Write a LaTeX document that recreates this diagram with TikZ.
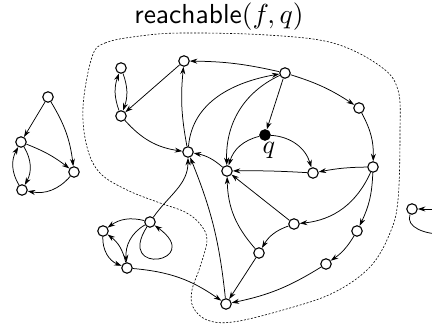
\documentclass[tikz,border=0pt]{standalone}
\usetikzlibrary{arrows.meta}

\begin{document}
\begin{tikzpicture}[
  x=1pt, y=-1pt,
  vtx/.style={draw, circle, line width=1.1pt, minimum size=10.5pt, inner sep=0pt},
  qvtx/.style={vtx, fill=black},
  flow/.style={-{Stealth[length=7.5pt, width=5pt]}, line width=0.75pt},
  region/.style={dash pattern=on 2pt off 1.6pt, line width=0.6pt}
]
\useasboundingbox (0,0) rectangle (432,328);

\node[scale=2.75] (title) at (219,17) {\textsf{reachable}$(f,q)$};

% region of reachable states
\draw[region] plot[smooth cycle, tension=0.6] coordinates {
  (92,57) (105,43) (140,36) (183,33) (267,35) (333,43) (380,66) (398,90)
  (400,133) (398,200) (390,233) (370,267) (333,293) (283,310) (233,322)
  (207,320) (193,307) (192,290) (200,267) (207,240) (200,224) (185,212)
  (160,203) (127,190) (100,173) (87,147) (83,107)};

% left component
\node[vtx] (l1) at (48,97) {};
\node[vtx] (l2) at (21,142) {};
\node[vtx] (l3) at (74,172) {};
\node[vtx] (l4) at (22,190) {};
\draw[flow] (l1) -- (l2);
\draw[flow] (l1) to[bend left=12] (l3);
\draw[flow] (l2) to[bend left=8] (l3);
\draw[flow] (l2) to[bend left=30] (l4);
\draw[flow] (l4) to[bend left=30] (l2);
\draw[flow] (l3) to[bend left=30] (l4);

% main component
\node[vtx] (a) at (121,68) {};
\node[vtx] (b) at (121,116) {};
\node[vtx] (c) at (184,61) {};
\node[vtx] (d) at (285,73) {};
\node[vtx] (e) at (359,108) {};
\node[qvtx] (q) at (265,135) {};
\node[scale=2.6] (qlab) at (269,150) {$q$};
\node[vtx] (f) at (188,152) {};
\node[vtx] (g) at (227,171) {};
\node[vtx] (h) at (313,173) {};
\node[vtx] (i) at (373,167) {};
\node[vtx] (j) at (294,224) {};
\node[vtx] (k) at (357,231) {};
\node[vtx] (m) at (259,253) {};
\node[vtx] (n) at (326,264) {};
\node[vtx] (p) at (226,304) {};
\node[vtx] (r) at (150,222) {};
\node[vtx] (s) at (103,231) {};
\node[vtx] (t) at (127,268) {};

\draw[flow] (a) to[bend left=20] (b);
\draw[flow] (b) to[bend left=20] (a);
\draw[flow] (c) -- (b);
\draw[flow] (b) to[bend right=20] (f);
\draw[flow] (f) to[bend left=8] (c);
\draw[flow] (d) to[bend right=6] (c);
\draw[flow] (f) to[out=85, in=190] (d);
\draw[flow] (d) to[out=205, in=92] (g);
\draw[flow] (d) -- (q);
\draw[flow] (d) to[bend left=8] (e);
\draw[flow] (e) to[bend left=15] (i);
\draw[flow] (q) to[bend right=30] (g);
\draw[flow] (q) to[bend left=35] (h);
\draw[flow] (i) to[bend right=5] (h);
\draw[flow] (h) to[bend right=2] (g);
\draw[flow] (g) to[bend right=15] (f);
\draw[flow] (i) to[bend left=30] (j);
\draw[flow] (i) to[bend left=12] (k);
\draw[flow] (j) -- (g);
\draw[flow] (j) to[bend right=20] (m);
\draw[flow] (m) to[bend left=20] (g);
\draw[flow] (m) -- (p);
\draw[flow] (k) to[bend left=12] (n);
\draw[flow] (n) to[bend left=10] (p);
\draw[flow] (p) to[bend right=8] (f);
\draw[flow] (r) to[out=55, in=-90] (f);
\draw[flow] (r) to[bend right=25] (s);
\draw[flow] (r) to[out=210, in=95] (t);
\draw[flow] (r) .. controls +(-35,55) and +(55,40) .. (r);
\draw[flow] (s) to[bend right=35] (t);
\draw[flow] (t) to[bend right=20] (s);
\draw[flow] (t) to[bend left=15] (p);

% component at the right edge
\node[vtx] (x) at (412,209) {};
\coordinate (xin) at (440,209);
\coordinate (xout) at (440,234);
\draw[flow] (xin) -- (x);
\draw[line width=0.75pt] (x) to[out=250, in=180] (xout);
\end{tikzpicture}
\end{document}
